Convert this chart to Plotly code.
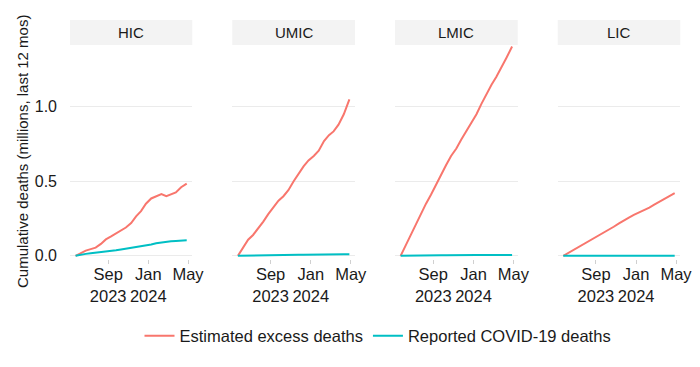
import plotly.graph_objects as go

groups = ["HIC", "UMIC", "LMIC", "LIC"]

dates = ["2023-05-25", "2023-06-10", "2023-06-25", "2023-07-10", "2023-07-25",
         "2023-08-10", "2023-08-25", "2023-09-10", "2023-09-25", "2023-10-10",
         "2023-10-25", "2023-11-10", "2023-11-25", "2023-12-10", "2023-12-25",
         "2024-01-10", "2024-01-25", "2024-02-10", "2024-02-25", "2024-03-10",
         "2024-03-25", "2024-04-10", "2024-04-27"]

excess_hic = [0, 0.02, 0.035, 0.045, 0.055, 0.08, 0.11, 0.13, 0.15, 0.165, 0.19, 0.22,
              0.265, 0.30, 0.35, 0.385, 0.40, 0.415, 0.40, 0.41, 0.425, 0.46, 0.485]
excess_umic = [0, 0.06, 0.108, 0.14, 0.18, 0.23, 0.28, 0.33, 0.37, 0.40, 0.44, 0.50,
               0.55, 0.60, 0.64, 0.67, 0.705, 0.77, 0.81, 0.835, 0.88, 0.95, 1.05]
excess_lmic = [0, 0.075, 0.145, 0.215, 0.28, 0.35, 0.41, 0.48, 0.55, 0.61, 0.67, 0.72,
               0.78, 0.835, 0.89, 0.95, 1.02, 1.09, 1.15, 1.20, 1.26, 1.33, 1.405]
excess_lic = [0, 0.02, 0.04, 0.057, 0.075, 0.097, 0.115, 0.135, 0.155, 0.175, 0.195, 0.218,
              0.24, 0.257, 0.275, 0.29, 0.305, 0.323, 0.343, 0.36, 0.378, 0.397, 0.42]

reported_hic = [0, 0.008, 0.013, 0.017, 0.02, 0.024, 0.028, 0.032, 0.037, 0.042, 0.047,
                0.052, 0.057, 0.062, 0.068, 0.076, 0.084, 0.09, 0.095, 0.098, 0.1, 0.102, 0.104]
reported_umic = [0, 0.001, 0.002, 0.002, 0.003, 0.003, 0.004, 0.004, 0.005, 0.005, 0.006,
                 0.006, 0.007, 0.007, 0.008, 0.008, 0.009, 0.009, 0.010, 0.010, 0.010, 0.011, 0.011]
reported_lmic = [0, 0.001, 0.001, 0.002, 0.002, 0.002, 0.003, 0.003, 0.003, 0.003, 0.004,
                 0.004, 0.004, 0.004, 0.005, 0.005, 0.005, 0.005, 0.005, 0.006, 0.006, 0.006, 0.006]
reported_lic = [0, 0.0002, 0.0003, 0.0004, 0.0005, 0.0005, 0.0006, 0.0006, 0.0007, 0.0007,
                0.0007, 0.0008, 0.0008, 0.0008, 0.0009, 0.0009, 0.0009, 0.0009, 0.001, 0.001,
                0.001, 0.001, 0.001]

excess = [excess_hic, excess_umic, excess_lmic, excess_lic]
reported = [reported_hic, reported_umic, reported_lmic, reported_lic]

x_tickvals = ["2023-09-01", "2024-01-01", "2024-05-01"]
x_ticktext = ["Sep<br>2023", "Jan<br>2024", "May"]
y_tickvals = [0.0, 0.5, 1.0]
y_ticktext = ["0.0", "0.5", "1.0"]

series_names = ["Estimated excess deaths", "Reported COVID-19 deaths"]
colors = ["#F8766D", "#00BFC4"]

W, H = 700, 367
panel_px = [(70, 192.3), (232.3, 355), (395, 517.7), (557.7, 680.3)]
panel_top, panel_bottom = 45, 258.5
strip_top = 20

FONT = "Liberation Sans, Arial, sans-serif"
TXT = "#1a1a1a"

fig = go.Figure()
for i, g in enumerate(groups):
    sfx = "" if i == 0 else str(i + 1)
    for j, data in enumerate([excess[i], reported[i]]):
        fig.add_trace(go.Scatter(
            x=dates, y=data, mode="lines",
            line=dict(color=colors[j], width=2),
            name=series_names[j], legendgroup=series_names[j],
            showlegend=(i == 0),
            xaxis="x" + sfx, yaxis="y" + sfx,
        ))

layout = dict(
    width=W, height=H,
    margin=dict(l=0, r=0, t=0, b=0, autoexpand=False),
    paper_bgcolor="white", plot_bgcolor="white",
    font=dict(family=FONT, color=TXT, size=16),
    showlegend=True,
    legend=dict(orientation="h", x=378 / W, xanchor="center", y=1 - 336 / H, yanchor="middle",
                font=dict(size=16.5, color=TXT), itemwidth=30, bgcolor="rgba(0,0,0,0)"),
    shapes=[], annotations=[],
)

ydom = [1 - panel_bottom / H, 1 - panel_top / H]
for i, g in enumerate(groups):
    sfx = "" if i == 0 else str(i + 1)
    x0, x1 = panel_px[i]
    layout["xaxis" + sfx] = dict(
        domain=[x0 / W, x1 / W], anchor="y" + sfx, type="date",
        range=["2023-05-08", "2024-05-14"],
        tickvals=x_tickvals, ticktext=x_ticktext,
        ticks="outside", ticklen=4, tickcolor="#d0d0d0", tickwidth=1,
        showgrid=False, zeroline=False, showline=False,
        tickfont=dict(size=16.5, color=TXT), tickangle=0, ticklabelstandoff=-3,
    )
    layout["yaxis" + sfx] = dict(
        domain=ydom, anchor="x" + sfx, range=[-0.018, 1.415],
        tickvals=y_tickvals, ticktext=y_ticktext,
        showticklabels=(i == 0), ticks="",
        showgrid=True, gridcolor="#ebebeb", gridwidth=1,
        zeroline=False, showline=False,
        tickfont=dict(size=16, color=TXT), ticklabelstandoff=12,
    )
    if i > 0:
        layout["yaxis" + sfx]["matches"] = "y"
    layout["shapes"].append(dict(
        type="rect", xref="paper", yref="paper",
        x0=x0 / W, x1=x1 / W, y0=1 - panel_top / H, y1=1 - strip_top / H,
        fillcolor="#f3f3f3", line=dict(width=0), layer="below",
    ))
    layout["annotations"].append(dict(
        text=g, xref="paper", yref="paper",
        x=(x0 + x1) / 2 / W, y=1 - (strip_top + panel_top) / 2 / H,
        xanchor="center", yanchor="middle", showarrow=False,
        font=dict(size=15, color=TXT),
    ))

layout["annotations"].append(dict(
    text="Cumulative deaths (millions, last 12 mos)", xref="paper", yref="paper",
    x=22 / W, y=1 - 152 / H, xanchor="center", yanchor="middle",
    textangle=-90, showarrow=False, font=dict(size=15, color=TXT),
))

fig.update_layout(**layout)
fig.write_html("out.html", config={"displayModeBar": False},
               post_script="document.body.style.margin='0';")
